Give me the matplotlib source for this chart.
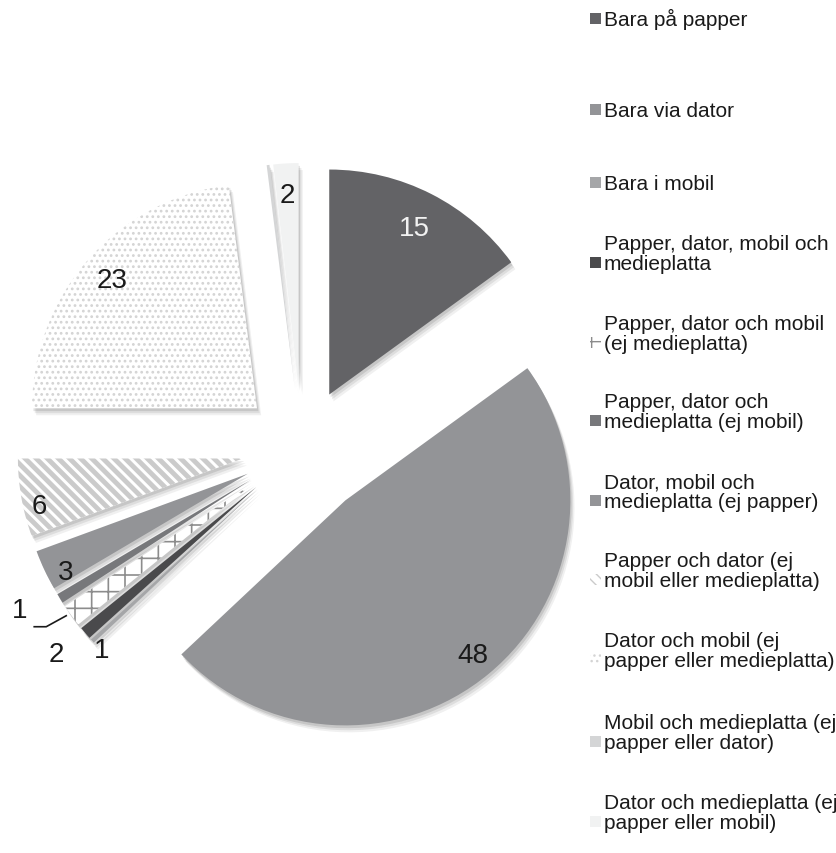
import numpy as np
import matplotlib.pyplot as plt
from matplotlib.patches import Rectangle, Shadow

plt.rcParams['font.family'] = ['Liberation Sans', 'DejaVu Sans']

# data, clockwise from 12 o'clock
categories = ['Bara på papper',
              'Bara via dator',
              'Bara i mobil',
              'Papper, dator, mobil och\nmedieplatta',
              'Papper, dator och mobil\n(ej medieplatta)',
              'Papper, dator och\nmedieplatta (ej mobil)',
              'Dator, mobil och\nmedieplatta (ej papper)',
              'Papper och dator (ej\nmobil eller medieplatta)',
              'Dator och mobil (ej\npapper eller medieplatta)',
              'Mobil och medieplatta (ej\npapper eller dator)',
              'Dator och medieplatta (ej\npapper eller mobil)']
shares = [15, 48, 0.3, 0.9, 1.6, 0.7, 2.9, 5.6, 23, 0.2, 1.8]
value_labels = ['15', '48', '', '1', '2', '1', '3', '6', '23', '', '2']

# styles
colors = ['#636366', '#939497', '#a5a6a8', '#4a4a4c', 'white', '#77787b',
          '#939497', 'white', 'white', '#d4d5d6', '#f1f2f2']
hatches = [None, None, None, None, '+', None, None, '\\\\\\', '...', None, None]
hatch_colors = [None, None, None, None, '#8c8c8c', None, None, '#cbcbcb', '#d4d4d4', None, None]
text_colors = ['#f2f2f2'] + ['#1a1a1a'] * 10
label_dist = [0.83, 0.89, 0, 1.0, 1.16, 0, 0.92, 0.93, 0.86, 0, 0.86]
label_shift = [0, 0, 0, 6, 5, 0, 3, 3, 0, 0, 0]   # degrees, ccw
explode = [60, 68, 60, 60, 60, 60, 60, 60, 60, 60, 60]

W, H = 836, 854
fig = plt.figure(figsize=(W / 100, H / 100), dpi=100)
ax = fig.add_axes([0, 0, 1, 1])

R = 225
wedges, _ = ax.pie(shares, explode=explode, radius=R, center=(302, H - 449),
                   startangle=90, counterclock=False, colors=colors,
                   labeldistance=None, wedgeprops=dict(linewidth=0))

for w, h, hc in zip(wedges, hatches, hatch_colors):
    if h:
        w.set_hatch(h)
        w.set_edgecolor(hc)
        if hasattr(w, 'set_hatch_linewidth'):
            w.set_hatch_linewidth(3.5 if h.startswith('\\') else 1.2)
    # soft drop shadow
    for ox, oy, a in [(1, -2, 0.10), (2, -3.5, 0.08), (3, -5, 0.06)]:
        s = Shadow(w, ox, oy, facecolor='#000000', edgecolor='none', alpha=a)
        s.set_hatch(None)
        ax.add_patch(s)

ax.set_xlim(0, W)
ax.set_ylim(0, H)
ax.set_aspect('equal')
ax.axis('off')

# value labels
for i, w in enumerate(wedges):
    if not value_labels[i] or i == 5:
        continue
    ang = np.deg2rad((w.theta1 + w.theta2) / 2 + label_shift[i])
    cx, cy = w.center
    x = cx + R * label_dist[i] * np.cos(ang)
    y = cy + R * label_dist[i] * np.sin(ang)
    ax.text(x, y, value_labels[i], ha='center', va='center', fontsize=20,
            color=text_colors[i])

# the small "1" slice gets a leader line
w = wedges[5]
ang = np.deg2rad((w.theta1 + w.theta2) / 2 + 4.5)
cx, cy = w.center
p0 = np.array([cx + R * 1.02 * np.cos(ang), cy + R * 1.02 * np.sin(ang)])
p1 = p0 + np.array([-20, -11])
p2 = p1 + np.array([-12, 0])
ax.plot([p0[0], p1[0], p2[0]], [p0[1], p1[1], p2[1]], color='#1a1a1a', lw=1.2)
ax.text(p2[0] - 15, p2[1] + 17, value_labels[5], ha='center', va='center',
        fontsize=20, color='#1a1a1a')

# legend on the right
legend_y = [19, 110, 183, 263, 343, 421, 501, 580, 660, 742, 822]
for i, cat in enumerate(categories):
    y = H - legend_y[i]
    r = Rectangle((590, y - 5.5), 11, 11, facecolor=colors[i], linewidth=0,
                  edgecolor=hatch_colors[i] if hatches[i] else 'none')
    if hatches[i]:
        r.set_hatch(hatches[i])
    ax.add_patch(r)
    ax.text(604, y - 7, cat, ha='left', va='baseline', fontsize=15,
            color='#1a1a1a', linespacing=1.05)

fig.savefig('out.png', dpi=100)
